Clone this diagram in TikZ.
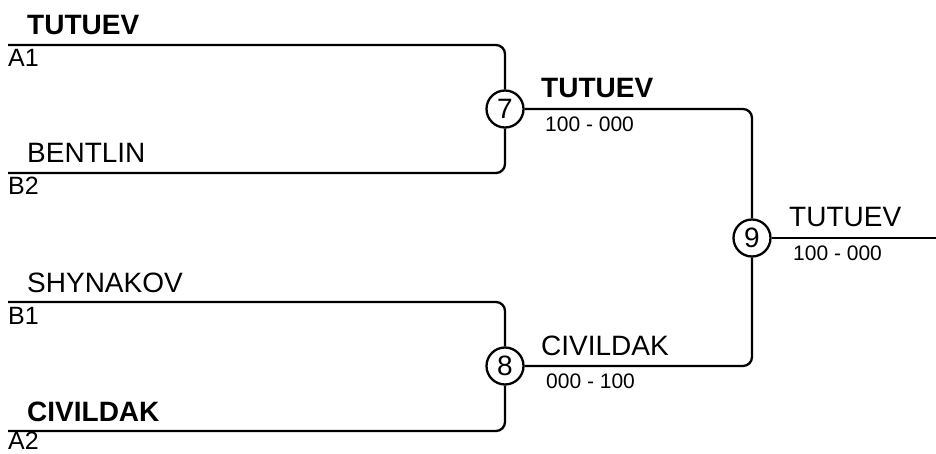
\documentclass[tikz,border=0pt]{standalone}
\usepackage{fontspec}
\setmainfont{Liberation Sans}
\begin{document}
\begin{tikzpicture}[x=1pt,y=-1pt,
  wire/.style={line width=2.3pt,rounded corners=9pt},
  matchnode/.style={circle,draw,line width=2.3pt,minimum size=37pt,inner sep=0pt,font=\fontsize{28}{28}\selectfont},
  pname/.style={anchor=base west,inner sep=0pt,font=\fontsize{28}{28}\selectfont},
  bname/.style={anchor=base west,inner sep=0pt,font=\fontsize{28}{28}\selectfont\bfseries},
  pcode/.style={anchor=base west,inner sep=0pt,font=\fontsize{25}{25}\selectfont},
  pscore/.style={anchor=base west,inner sep=0pt,font=\fontsize{21}{21}\selectfont}]
\useasboundingbox (0,0) rectangle (936,454);
% entry points
\coordinate (a1) at (8,45);
\coordinate (b2) at (8,173);
\coordinate (b1) at (8,302);
\coordinate (a2) at (8,431);
\coordinate (out) at (936,238);
% matches
\node[matchnode] (m7) at (505,109) {7};
\node[matchnode] (m8) at (505,366) {8};
\node[matchnode] (m9) at (752,238) {9};
% wires
\draw[wire] (a1) -| (m7);
\draw[wire] (b2) -| (m7);
\draw[wire] (b1) -| (m8);
\draw[wire] (a2) -| (m8);
\draw[wire] (m7) -| (m9);
\draw[wire] (m8) -| (m9);
\draw[wire] (m9) -- (out);
% left labels
\node[bname] (n1) at (27,35) {TUTUEV};
\node[pcode] (c1) at (8,67) {A1};
\node[pname] (n2) at (27,163) {BENTLIN};
\node[pcode] (c2) at (8,195) {B2};
\node[pname] (n3) at (27,292) {SHYNAKOV};
\node[pcode] (c3) at (8,324) {B1};
\node[bname] (n4) at (27,421) {CIVILDAK};
\node[pcode] (c4) at (8,449) {A2};
% right labels
\node[bname] (w7) at (541,98) {TUTUEV};
\node[pscore] (s7) at (545,132) {100 - 000};
\node[pname] (w8) at (541,355) {CIVILDAK};
\node[pscore] (s8) at (546,388) {000 - 100};
\node[pname] (w9) at (789,226) {TUTUEV};
\node[pscore] (s9) at (793,260) {100 - 000};
\end{tikzpicture}
\end{document}
